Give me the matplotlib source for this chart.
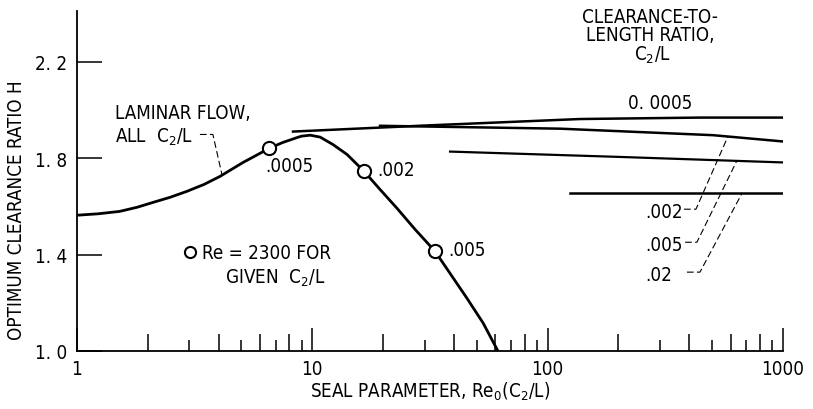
import matplotlib
matplotlib.use("Agg")
import matplotlib.pyplot as plt
from matplotlib.ticker import FixedLocator, NullLocator, NullFormatter

plt.rcParams['font.family'] = ['DejaVu Sans']
plt.rcParams['font.stretch'] = 'condensed'
plt.rcParams['mathtext.default'] = 'regular'

# laminar flow curve, all C2/L
lam_x = [1.0, 1.23, 1.52, 1.80, 2.10, 2.48, 2.93, 3.47, 4.05, 5.08, 5.77, 6.54, 7.5, 8.61, 9.0, 9.8,
         10.8, 12.25, 14.05, 16.6, 19.4, 22.9, 27.3, 33.2, 45.4, 53.2, 61.5]
lam_y = [1.563, 1.569, 1.579, 1.596, 1.616, 1.637, 1.662, 1.691, 1.724, 1.782, 1.811, 1.840, 1.865, 1.885,
         1.891, 1.895, 1.887, 1.856, 1.815, 1.745, 1.670, 1.592, 1.505, 1.414, 1.219, 1.116, 1.0]

# Re = 2300 points on the laminar curve
re_x = [6.54, 16.6, 33.2]
re_y = [1.840, 1.745, 1.414]
re_labels = ['.0005', '.002', '.005']

# turbulent curves for each clearance-to-length ratio
c0005_x = [8.28, 30.0, 137.0, 444.0, 1000.0]
c0005_y = [1.910, 1.935, 1.962, 1.968, 1.968]
c002_x = [19.4, 113.0, 505.0, 1000.0]
c002_y = [1.934, 1.922, 1.895, 1.869]
c005_x = [38.5, 200.0, 1000.0]
c005_y = [1.827, 1.805, 1.782]
c02_x = [124.0, 1000.0]
c02_y = [1.655, 1.655]

ytick_vals = [1.0, 1.4, 1.8, 2.2]
ytick_labels = ['1. 0', '1. 4', '1. 8', '2. 2']
xtick_vals = [1, 10, 100, 1000]
xtick_labels = ['1', '10', '100', '1000']
long_minor = [2, 4, 6, 8, 20, 40, 60, 80, 200, 400, 600, 800]
short_minor = [3, 5, 7, 9, 30, 50, 70, 90, 300, 500, 700, 900]

fs = 13.5

fig = plt.figure(figsize=(8.13, 4.10), dpi=100)
ax = fig.add_axes([0.0947, 0.1415, 0.8683, 0.8292])
ax.set_xscale('log')
ax.set_xlim(1, 1000)
ax.set_ylim(1.0, 2.41)

ax.plot(lam_x, lam_y, color='black', lw=2.0, solid_joinstyle='round')
ax.plot(c0005_x, c0005_y, color='black', lw=1.8)
ax.plot(c002_x, c002_y, color='black', lw=1.8)
ax.plot(c005_x, c005_y, color='black', lw=1.6)
ax.plot(c02_x, c02_y, color='black', lw=1.8)
ax.plot(re_x, re_y, 'o', ms=9.5, mfc='white', mec='black', mew=1.5, zorder=5)

for x, y, lab in zip(re_x, re_y, re_labels):
    if lab == '.0005':
        ax.text(x * 0.965, y - 0.07, lab, fontsize=fs, ha='left', va='center')
    else:
        ax.text(x * 1.14, y + 0.008, lab, fontsize=fs, ha='left', va='center')

# leaders
dash = dict(color='black', lw=0.8, ls=(0, (6, 3)))
ax.plot([3.33, 3.78, 4.13], [1.898, 1.898, 1.732], **dash)
ax.plot([380, 427, 584], [1.588, 1.588, 1.890], **dash)
ax.plot([384, 431, 638], [1.451, 1.451, 1.790], **dash)
ax.plot([391, 444, 670], [1.327, 1.327, 1.654], **dash)

ax.text(259, 1.579, '.002', fontsize=fs, ha='left', va='center')
ax.text(259, 1.443, '.005', fontsize=fs, ha='left', va='center')
ax.text(259, 1.319, '.02', fontsize=fs, ha='left', va='center')

ax.text(1.45, 1.989, 'LAMINAR FLOW,', fontsize=fs, ha='left', va='center')
ax.text(1.45, 1.890, 'ALL  C$_2$/L', fontsize=fs, ha='left', va='center')

ax.plot([3.02], [1.410], 'o', ms=8, mfc='white', mec='black', mew=1.5)
ax.text(3.40, 1.410, 'Re = 2300 FOR', fontsize=fs, ha='left', va='center')
ax.text(4.26, 1.306, 'GIVEN  C$_2$/L', fontsize=fs, ha='left', va='center')

ax.text(272, 2.386, 'CLEARANCE-TO-', fontsize=fs, ha='center', va='center')
ax.text(272, 2.312, 'LENGTH RATIO,', fontsize=fs, ha='center', va='center')
ax.text(280, 2.229, 'C$_2$/L', fontsize=fs, ha='center', va='center')
ax.text(300, 2.030, '0. 0005', fontsize=fs, ha='center', va='center')

# axes styling
for s in ['top', 'right']:
    ax.spines[s].set_visible(False)
for s in ['left', 'bottom']:
    ax.spines[s].set_linewidth(1.3)

ax.yaxis.set_major_locator(FixedLocator(ytick_vals))
ax.set_yticklabels(ytick_labels)
ax.yaxis.set_minor_locator(NullLocator())
ax.tick_params(axis='y', direction='in', length=18, width=1.1, pad=7, labelsize=fs)

ax.xaxis.set_major_locator(FixedLocator(xtick_vals))
ax.set_xticklabels(xtick_labels)
ax.xaxis.set_minor_locator(FixedLocator(long_minor))
ax.xaxis.set_minor_formatter(NullFormatter())
ax.tick_params(axis='x', which='major', direction='in', length=16.5, width=1.1, pad=6, labelsize=fs)
ax.tick_params(axis='x', which='minor', direction='in', length=12.5, width=1.1)

sec = ax.secondary_xaxis('bottom')
sec.xaxis.set_major_locator(FixedLocator(short_minor))
sec.xaxis.set_minor_locator(NullLocator())
sec.tick_params(axis='x', direction='in', length=8, width=1.1, labelbottom=False)
sec.spines['bottom'].set_visible(False)

ax.set_ylabel('OPTIMUM CLEARANCE RATIO H', fontsize=fs)
ax.yaxis.set_label_coords(-0.072, 0.418)
ax.set_xlabel('SEAL PARAMETER, Re$_0$(C$_2$/L)', fontsize=fs)
ax.xaxis.set_label_coords(0.50, -0.083)

fig.savefig('out.png', dpi=100)
